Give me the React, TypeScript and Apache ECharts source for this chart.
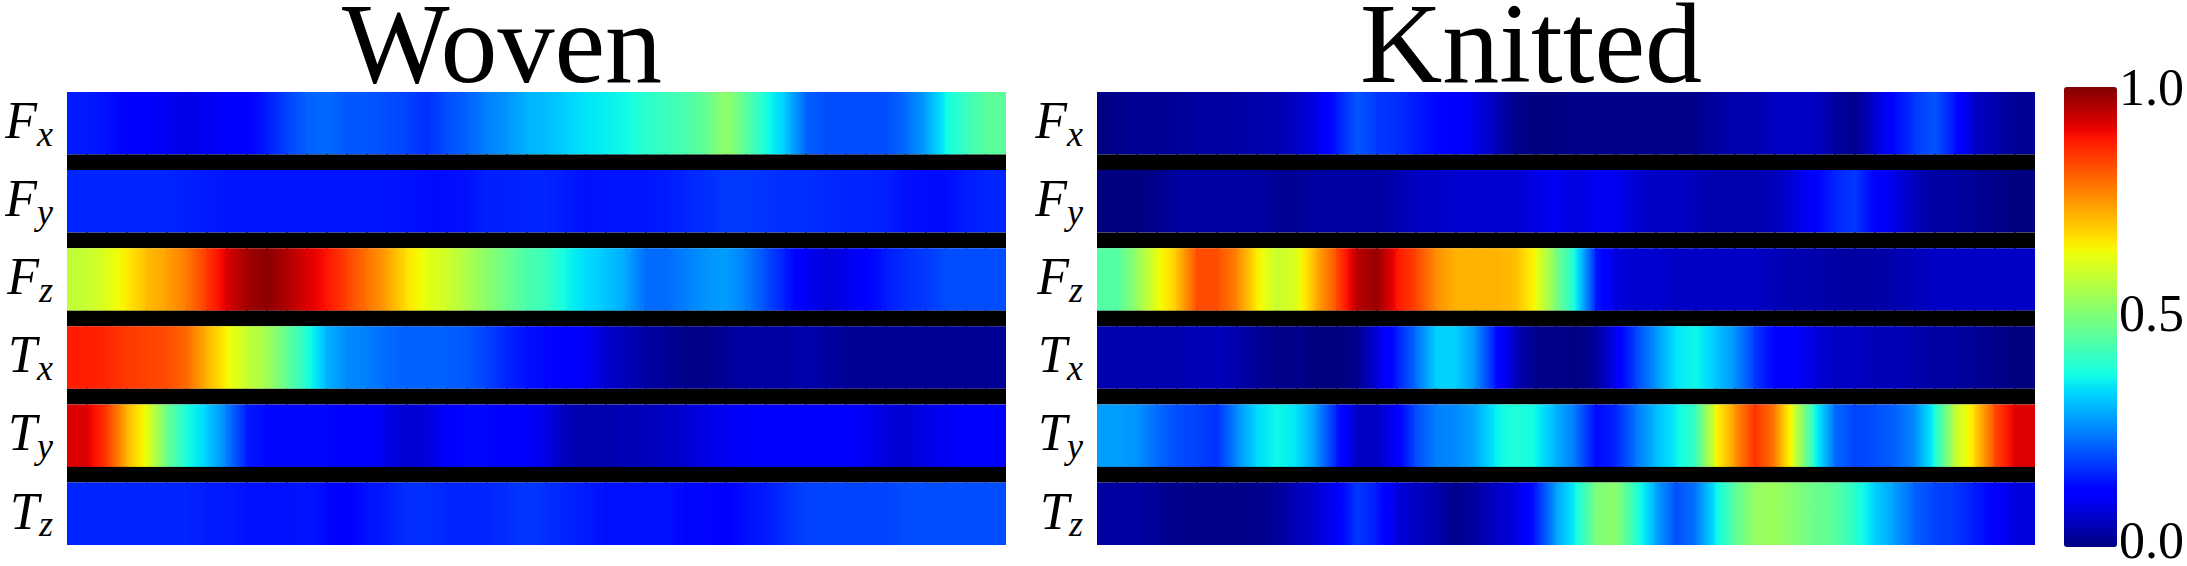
import React, { useEffect, useRef } from "react";
import * as echarts from "echarts";

// ---------- data ----------
const ROW_NAMES = ["Fx", "Fy", "Fz", "Tx", "Ty", "Tz"];
const ROW_MAIN = ["F", "F", "F", "T", "T", "T"];
const ROW_SUB = ["x", "y", "z", "x", "y", "z"];
const PANEL_TITLES = ["Woven", "Knitted"];
const CBAR_TICKS = [0, 0.5, 1];

const wovenFx = [0.15, 0.15, 0.14, 0.12, 0.11, 0.1, 0.09, 0.1, 0.11, 0.12, 0.15, 0.19, 0.22, 0.23, 0.21, 0.21, 0.2, 0.19, 0.17, 0.2, 0.22, 0.25, 0.27, 0.3,
  0.31, 0.33, 0.35, 0.36, 0.37, 0.4, 0.42, 0.44, 0.47, 0.53, 0.46, 0.38, 0.32, 0.22, 0.2, 0.2, 0.2, 0.2, 0.23, 0.28, 0.37, 0.42, 0.46, 0.46];
const wovenFy = [0.16, 0.16, 0.16, 0.16, 0.16, 0.16, 0.155, 0.15, 0.145, 0.145, 0.145, 0.145, 0.145, 0.145, 0.145, 0.145, 0.145, 0.14, 0.135, 0.135, 0.14, 0.155, 0.155, 0.16,
  0.16, 0.15, 0.14, 0.145, 0.145, 0.145, 0.15, 0.16, 0.17, 0.18, 0.18, 0.175, 0.17, 0.17, 0.165, 0.16, 0.16, 0.155, 0.14, 0.135, 0.135, 0.15, 0.16, 0.16];
const wovenFz = [0.58, 0.59, 0.62, 0.66, 0.71, 0.74, 0.78, 0.85, 0.92, 0.97, 0.99, 0.96, 0.92, 0.89, 0.84, 0.79, 0.74, 0.67, 0.63, 0.6, 0.56, 0.52, 0.48, 0.44,
  0.42, 0.37, 0.34, 0.32, 0.29, 0.23, 0.23, 0.25, 0.27, 0.28, 0.25, 0.2, 0.15, 0.1, 0.08, 0.09, 0.12, 0.15, 0.17, 0.18, 0.2, 0.2, 0.2, 0.2];
const wovenTx = [0.88, 0.88, 0.87, 0.85, 0.84, 0.83, 0.8, 0.72, 0.65, 0.59, 0.55, 0.47, 0.39, 0.3, 0.26, 0.25, 0.23, 0.22, 0.22, 0.22, 0.21, 0.19, 0.16, 0.14,
  0.13, 0.12, 0.1, 0.07, 0.05, 0.03, 0.02, 0.01, 0.01, 0.02, 0.03, 0.03, 0.03, 0.04, 0.03, 0.02, 0.02, 0.02, 0.02, 0.02, 0.02, 0.02, 0.02, 0.02];
const wovenTy = [0.92, 0.92, 0.85, 0.72, 0.63, 0.48, 0.38, 0.33, 0.25, 0.15, 0.13, 0.13, 0.13, 0.13, 0.12, 0.12, 0.09, 0.07, 0.08, 0.11, 0.13, 0.13, 0.12, 0.11,
  0.09, 0.05, 0.04, 0.04, 0.05, 0.05, 0.06, 0.07, 0.09, 0.1, 0.11, 0.12, 0.12, 0.12, 0.11, 0.11, 0.1, 0.08, 0.07, 0.09, 0.1, 0.11, 0.11, 0.11];
const wovenTz = [0.16, 0.16, 0.16, 0.16, 0.16, 0.16, 0.16, 0.15, 0.15, 0.14, 0.14, 0.14, 0.145, 0.13, 0.12, 0.14, 0.15, 0.17, 0.17, 0.16, 0.16, 0.16, 0.17, 0.18,
  0.17, 0.16, 0.15, 0.14, 0.14, 0.14, 0.14, 0.13, 0.13, 0.12, 0.14, 0.15, 0.17, 0.19, 0.19, 0.19, 0.19, 0.19, 0.2, 0.2, 0.2, 0.2, 0.2, 0.2];

const knitFx = [0.0, 0.01, 0.02, 0.02, 0.02, 0.03, 0.03, 0.03, 0.04, 0.04, 0.06, 0.09, 0.15, 0.21, 0.18, 0.17, 0.15, 0.13, 0.12, 0.09, 0.05, 0.01, 0.0, 0.0,
  0.01, 0.01, 0.01, 0.01, 0.01, 0.01, 0.01, 0.03, 0.04, 0.04, 0.06, 0.06, 0.06, 0.03, 0.01, 0.07, 0.13, 0.18, 0.21, 0.14, 0.06, 0.04, 0.02, 0.02];
const knitFy = [0.0, 0.0, 0.0, 0.01, 0.03, 0.03, 0.03, 0.03, 0.03, 0.02, 0.02, 0.03, 0.03, 0.03, 0.03, 0.04, 0.06, 0.06, 0.07, 0.07, 0.07, 0.07, 0.09, 0.1,
  0.08, 0.1, 0.1, 0.07, 0.06, 0.06, 0.05, 0.04, 0.04, 0.04, 0.05, 0.08, 0.12, 0.16, 0.18, 0.12, 0.09, 0.05, 0.03, 0.03, 0.02, 0.01, 0.0, 0.0];
const knitFz = [0.45, 0.45, 0.53, 0.63, 0.7, 0.83, 0.83, 0.77, 0.66, 0.59, 0.62, 0.73, 0.83, 0.95, 0.98, 0.89, 0.84, 0.76, 0.72, 0.72, 0.72, 0.71, 0.64, 0.5,
  0.37, 0.15, 0.08, 0.07, 0.07, 0.06, 0.06, 0.06, 0.06, 0.06, 0.05, 0.04, 0.04, 0.03, 0.03, 0.03, 0.04, 0.05, 0.06, 0.06, 0.06, 0.06, 0.06, 0.06];
const knitTx = [0.04, 0.04, 0.04, 0.04, 0.04, 0.05, 0.05, 0.04, 0.02, 0.01, 0.01, 0.0, 0.0, 0.01, 0.08, 0.15, 0.23, 0.33, 0.33, 0.27, 0.14, 0.05, 0.01, 0.01,
  0.0, 0.02, 0.1, 0.19, 0.27, 0.35, 0.37, 0.32, 0.27, 0.18, 0.12, 0.11, 0.08, 0.06, 0.06, 0.05, 0.05, 0.04, 0.03, 0.03, 0.02, 0.01, 0.0, 0.0];
const knitTy = [0.28, 0.28, 0.27, 0.23, 0.2, 0.19, 0.17, 0.26, 0.34, 0.37, 0.35, 0.27, 0.15, 0.06, 0.06, 0.11, 0.2, 0.25, 0.26, 0.29, 0.36, 0.39, 0.37, 0.3,
  0.24, 0.13, 0.16, 0.24, 0.31, 0.36, 0.42, 0.64, 0.75, 0.86, 0.78, 0.6, 0.38, 0.23, 0.19, 0.2, 0.22, 0.26, 0.38, 0.58, 0.68, 0.83, 0.92, 0.92];
const knitTz = [0.03, 0.03, 0.03, 0.02, 0.01, 0.01, 0.01, 0.01, 0.01, 0.02, 0.05, 0.07, 0.11, 0.18, 0.15, 0.08, 0.06, 0.04, 0.01, 0.03, 0.06, 0.08, 0.15, 0.28,
  0.37, 0.5, 0.52, 0.4, 0.29, 0.2, 0.24, 0.36, 0.46, 0.53, 0.54, 0.51, 0.48, 0.46, 0.4, 0.33, 0.28, 0.22, 0.19, 0.18, 0.15, 0.12, 0.08, 0.08];

const WOVEN_ROWS = [wovenFx, wovenFy, wovenFz, wovenTx, wovenTy, wovenTz];
const KNIT_ROWS = [knitFx, knitFy, knitFz, knitTx, knitTy, knitTz];

// ---------- colormap (matplotlib jet) ----------
function interp(pts: number[][], v: number) {
  for (let i = 0; i < pts.length - 1; i++) {
    const [x0, y0] = pts[i];
    const [x1, y1] = pts[i + 1];
    if (v <= x1) return y0 + ((v - x0) / (x1 - x0)) * (y1 - y0);
  }
  return pts[pts.length - 1][1];
}
const JET_R = [[0, 0], [0.35, 0], [0.66, 1], [0.89, 1], [1, 0.5]];
const JET_G = [[0, 0], [0.125, 0], [0.375, 1], [0.64, 1], [0.91, 0], [1, 0]];
const JET_B = [[0, 0.5], [0.11, 1], [0.34, 1], [0.65, 0], [1, 0]];
function jet(v: number) {
  const t = Math.max(0, Math.min(1, v));
  const c = (x: number) => Math.round(Math.max(0, Math.min(1, x)) * 255);
  return `rgb(${c(interp(JET_R, t))},${c(interp(JET_G, t))},${c(interp(JET_B, t))})`;
}
const JET_LIST: string[] = [];
for (let i = 0; i <= 64; i++) JET_LIST.push(jet(i / 64));

const FONT = "Liberation Serif";

function buildItems(rows: number[][]) {
  const items: number[][] = [];
  rows.forEach((vals, r) => {
    for (let i = 0; i < vals.length - 1; i++) items.push([i, r, vals[i], vals[i + 1]]);
  });
  return items;
}

function renderItem(params: any, api: any) {
  const col = api.value(0);
  const row = api.value(1);
  const v0 = api.value(2);
  const v1 = api.value(3);
  const p0 = api.coord([col, row]);
  const p1 = api.coord([col + 1, row]);
  const band = api.size([0, 1])[1];
  const top = p0[1] - band / 2;
  const h = band * 0.8;
  const x0 = Math.floor(p0[0]);
  const w = Math.ceil(p1[0]) - x0 + 1;
  const stops = [];
  const n = 8;
  for (let k = 0; k <= n; k++) {
    stops.push({ offset: k / n, color: jet(v0 + ((v1 - v0) * k) / n) });
  }
  const children: any[] = [
    {
      type: "rect",
      shape: { x: x0, y: top, width: w, height: h },
      style: { fill: new echarts.graphic.LinearGradient(0, 0, 1, 0, stops) },
    },
  ];
  if (row < ROW_NAMES.length - 1) {
    children.push({
      type: "rect",
      shape: { x: x0, y: top + h, width: w, height: band - h },
      style: { fill: "#000" },
    });
  }
  return { type: "group", children };
}

export default function App() {
  const ref = useRef<HTMLDivElement>(null);
  useEffect(() => {
    document.body.style.margin = "0";
    const chart = echarts.init(ref.current!, null, { renderer: "svg" });
    const unit = 453 / 29;
    const gridH = unit * 30;
    const nCols = wovenFx.length;
    const labelFormatter = (_v: string, idx: number) => `{m|${ROW_MAIN[idx]}}{s|${ROW_SUB[idx]}}`;
    const rowAxis = (gridIndex: number) => ({
      type: "category",
      gridIndex,
      data: ROW_NAMES,
      inverse: true,
      axisLine: { show: false },
      axisTick: { show: false },
      splitLine: { show: false },
      axisLabel: {
        margin: 14,
        formatter: labelFormatter,
        padding: [0, 0, 21, 0],
        rich: {
          m: { fontFamily: FONT, fontStyle: "italic", fontSize: 52, lineHeight: 62, color: "#000" },
          s: { fontFamily: FONT, fontStyle: "italic", fontSize: 36, lineHeight: 36, verticalAlign: "bottom", color: "#000" },
        },
      },
    });
    const colAxis = (gridIndex: number) => ({
      type: "value",
      gridIndex,
      min: 0,
      max: nCols - 1,
      show: false,
      splitLine: { show: false },
    });
    chart.setOption({
      animation: false,
      backgroundColor: "#fff",
      grid: [
        { left: 67, top: 92, width: 938, height: gridH },
        { left: 1097, top: 92, width: 937, height: gridH },
        { left: 2064, top: 87, width: 53, height: 460 },
      ],
      xAxis: [colAxis(0), colAxis(1), { type: "category", gridIndex: 2, data: [""], show: false }],
      yAxis: [
        rowAxis(0),
        rowAxis(1),
        {
          type: "value",
          gridIndex: 2,
          min: 0,
          max: 1,
          interval: 0.5,
          position: "right",
          axisLine: { show: false },
          axisTick: { show: false },
          splitLine: { show: false },
          axisLabel: {
            margin: 5,
            fontFamily: FONT,
            fontSize: 52,
            color: "#000",
            formatter: (v: number) => (CBAR_TICKS.includes(v) ? v.toFixed(1) : ""),
          },
        },
      ],
      visualMap: {
        type: "continuous",
        min: 0,
        max: 1,
        dimension: 2,
        seriesIndex: [0, 1],
        calculable: false,
        orient: "vertical",
        left: 2064,
        top: 87,
        itemWidth: 53,
        itemHeight: 460,
        padding: 0,
        hoverLink: false,
        inRange: { color: JET_LIST },
      },
      graphic: PANEL_TITLES.map((t, i) => ({
        type: "text",
        x: i === 0 ? 502 : 1531,
        y: 43,
        style: {
          text: t,
          fontFamily: FONT,
          fontSize: 114,
          lineHeight: 86,
          fill: "#000",
          align: "center",
          verticalAlign: "middle",
        },
      })),
      series: [
        {
          type: "custom",
          xAxisIndex: 0,
          yAxisIndex: 0,
          renderItem,
          encode: { x: 0, y: 1 },
          data: buildItems(WOVEN_ROWS),
          silent: true,
        },
        {
          type: "custom",
          xAxisIndex: 1,
          yAxisIndex: 1,
          renderItem,
          encode: { x: 0, y: 1 },
          data: buildItems(KNIT_ROWS),
          silent: true,
        },
      ],
    });
    return () => chart.dispose();
  }, []);
  return <div ref={ref} style={{ position: "absolute", left: 0, top: 0, width: 2187, height: 566 }} />;
}
